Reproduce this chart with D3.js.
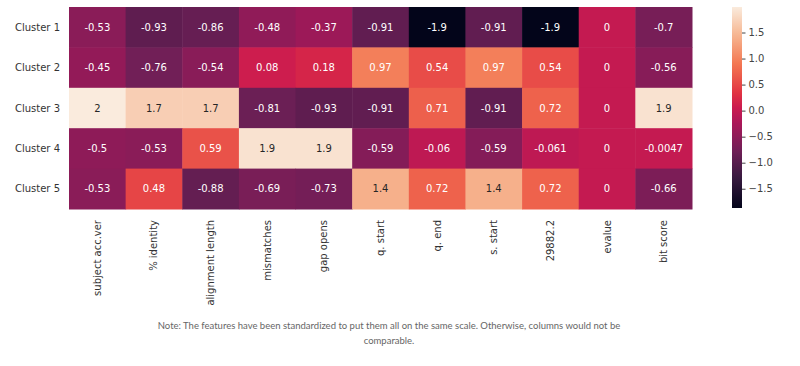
<!DOCTYPE html>
<html><head><meta charset="utf-8">
<script src="https://cdn.jsdelivr.net/npm/d3@7"></script>
<style>body{margin:0;background:#fff}svg{display:block}</style>
</head><body>
<svg id="chart" width="800" height="366"></svg>
<script>
const rows = ["Cluster 1","Cluster 2","Cluster 3","Cluster 4","Cluster 5"];
const columns = ["subject acc.ver","% identity","alignment length","mismatches","gap opens","q. start","q. end","s. start","29882.2","evalue","bit score"];
const cluster1 = [-0.53,-0.93,-0.86,-0.48,-0.37,-0.91,-1.87,-0.91,-1.87,0,-0.7];
const cluster2 = [-0.45,-0.76,-0.54,0.08,0.18,0.97,0.54,0.97,0.54,0,-0.56];
const cluster3 = [1.99,1.7,1.7,-0.81,-0.93,-0.91,0.71,-0.91,0.72,0,1.9];
const cluster4 = [-0.5,-0.53,0.59,1.9,1.9,-0.59,-0.06,-0.59,-0.061,0,-0.0047];
const cluster5 = [-0.53,0.48,-0.88,-0.69,-0.73,1.4,0.72,1.4,0.72,0,-0.66];
const colorTicks = [-1.5,-1.0,-0.5,0.0,0.5,1.0,1.5];
const noteLines = ["Note: The features have been standardized to put them all on the same scale. Otherwise, columns would not be","comparable."];

const values = [cluster1,cluster2,cluster3,cluster4,cluster5];
const cells = [];
values.forEach((r,i)=>r.forEach((v,j)=>cells.push({row:rows[i],col:columns[j],v})));
const vmin = d3.min(values.flat()), vmax = d3.max(values.flat());

// seaborn "rocket" approximation
const rocketStops = [[0,"#03051a"],[1/7,"#35193e"],[2/7,"#701f57"],[3/7,"#ad1759"],[0.5,"#cb1b4f"],[4/7,"#e13342"],[5/7,"#f37651"],[6/7,"#f6b48f"],[1,"#faebdd"]];
const rocket = d3.scaleLinear().domain(rocketStops.map(d=>d[0])).range(rocketStops.map(d=>d[1])).interpolate(d3.interpolateRgb).clamp(true);
const color = v => rocket((v - vmin)/(vmax - vmin));

const svg = d3.select("#chart");
const L=69, R=692, T=7, B=209;
const x = d3.scaleBand().domain(columns).range([L,R]);
const y = d3.scaleBand().domain(rows).range([T,B]);

const fmt = d3.formatLocale({decimal:".",thousands:",",grouping:[3],currency:["",""],minus:"-"}).format(".2~g");

function lum(c){
  const rgb = d3.rgb(c);
  const f = u => { u/=255; return u<=0.03928? u/12.92 : Math.pow((u+0.055)/1.055,2.4); };
  return 0.2126*f(rgb.r)+0.7152*f(rgb.g)+0.0722*f(rgb.b);
}

const g = svg.append("g");
g.selectAll("rect.cell").data(cells).join("rect").attr("class","cell")
  .attr("x",d=>x(d.col)).attr("y",d=>y(d.row))
  .attr("width",x.bandwidth()+0.5).attr("height",y.bandwidth()+0.5)
  .attr("fill",d=>color(d.v));
g.selectAll("text.ann").data(cells).join("text").attr("class","ann")
  .attr("x",d=>x(d.col)+x.bandwidth()/2).attr("y",d=>y(d.row)+y.bandwidth()/2)
  .attr("dy","0.35em").attr("text-anchor","middle")
  .attr("font-family","DejaVu Sans").attr("font-size",10)
  .attr("fill",d=>lum(color(d.v))>0.408?"#262626":"#ffffff")
  .text(d=>fmt(d.v));

// row labels
svg.append("g").selectAll("text").data(rows).join("text")
  .attr("x",L-9).attr("y",d=>y(d)+y.bandwidth()/2).attr("dy","0.35em")
  .attr("text-anchor","end").attr("font-family","DejaVu Sans").attr("font-size",10).attr("fill","#333")
  .text(d=>d);
// column labels
svg.append("g").selectAll("text").data(columns).join("text")
  .attr("transform",d=>`translate(${x(d)+x.bandwidth()/2},${B+11}) rotate(-90)`)
  .attr("dy","0.35em").attr("text-anchor","end")
  .attr("font-family","DejaVu Sans").attr("font-size",10).attr("fill","#333")
  .text(d=>d);

// colorbar
const cbX=732, cbW=10, cbT=7, cbB=208;
const cy = d3.scaleLinear().domain([vmin,vmax]).range([cbB,cbT]);
const grad = svg.append("defs").append("linearGradient").attr("id","cbg").attr("x1",0).attr("x2",0).attr("y1",1).attr("y2",0);
d3.range(0,1.0001,0.02).forEach(t=>grad.append("stop").attr("offset",t).attr("stop-color",rocket(t)));
svg.append("rect").attr("x",cbX).attr("y",cbT).attr("width",cbW).attr("height",cbB-cbT).attr("fill","url(#cbg)");
const ax = svg.append("g").attr("transform",`translate(${cbX+cbW},0)`)
  .call(d3.axisRight(cy).tickValues(colorTicks).tickFormat(d3.format(".1f")).tickSize(3.5).tickPadding(3));
ax.select(".domain").remove();
ax.selectAll("line").attr("stroke","#444");
ax.selectAll("text").attr("font-family","DejaVu Sans").attr("font-size",10).attr("fill","#444");

// note
svg.append("g").selectAll("text").data(noteLines).join("text")
  .attr("x",389).attr("y",(d,i)=>329+i*15).attr("text-anchor","middle")
  .attr("font-family","Lato").attr("font-size",9.5).attr("fill","#666")
  .text(d=>d);
</script>
</body></html>
